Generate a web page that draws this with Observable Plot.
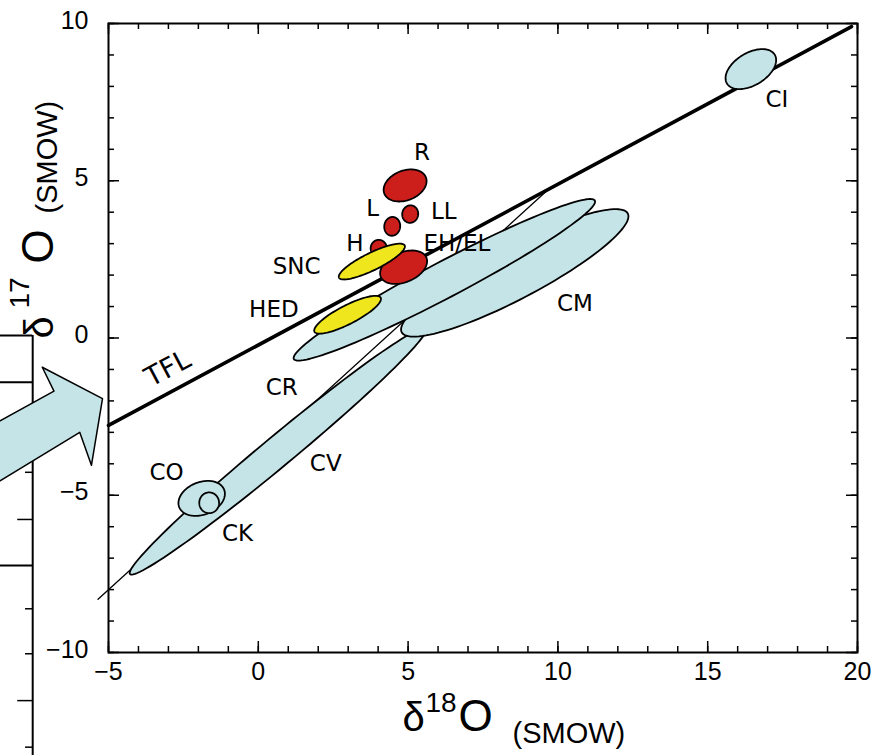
<!DOCTYPE html>
<html><head><meta charset="utf-8">
<script src="https://cdn.jsdelivr.net/npm/d3@7"></script>
<script src="https://cdn.jsdelivr.net/npm/@observablehq/plot@0.6"></script>
<style>body{margin:0;background:#fff;} #chart svg{display:block;}</style>
</head><body><div id="chart"></div>
<script>
// ---------- data ----------
// axis ticks
const xTickLabels = [-5, 0, 5, 10, 15, 20];
const yTickLabels = [-10, -5, 0, 5, 10];

// lines (δ18O, δ17O end points)
const tflX = [-5, 19.8];
const tflY = [-2.78, 9.9];
const ccamX = [-5.35, 9.76];
const ccamY = [-8.31, 4.79];

// fields (ellipses): centre, semi-axes (‰), tilt (deg), group
const shapeNames = ["CV", "CO", "CK", "CM", "CR", "HED", "H", "EH/EL", "SNC", "L", "LL", "R", "CI"];
const shapeX     = [0.66, -1.89, -1.64, 8.56, 6.21, 2.98, 4.02, 4.85, 3.79, 4.47, 5.07, 4.90, 16.44];
const shapeY     = [-3.60, -5.10, -5.24, 2.07, 1.85, 0.74, 2.85, 2.25, 2.43, 3.55, 3.94, 4.85, 8.55];
const shapeA     = [6.30, 0.80, 0.33, 4.22, 5.62, 1.23, 0.27, 0.82, 1.21, 0.30, 0.28, 0.74, 0.92];
const shapeB     = [0.49, 0.52, 0.33, 0.84, 0.58, 0.30, 0.27, 0.475, 0.28, 0.265, 0.265, 0.475, 0.52];
const shapeAngle = [38.3, 19, 0, 26.5, 26.6, 25.9, 0, 21, 24.9, 80, 70, 19.1, 28.8];
const shapeGroup = ["carb", "carb", "carb", "carb", "carb", "achon", "ord", "ord", "achon", "ord", "ord", "ord", "carb"];

// labels
const labelNames = ["CI", "R", "L", "LL", "H", "EH/EL", "SNC", "HED", "CM", "CR", "CV", "CO", "CK"];
const labelX = [17.31, 5.46, 3.82, 6.19, 3.22, 6.63, 1.28, 0.52, 10.57, 0.78, 2.25, -3.06, -0.69];
const labelY = [7.58, 5.90, 4.12, 4.02, 3.00, 3.00, 2.27, 0.91, 1.10, -1.57, -3.99, -4.28, -6.22];
const tflLabel = ["TFL"];
const tflLabelX = [-3.02];
const tflLabelY = [-0.97];

// neighbouring panel (cut off at the left) and the arrow pointing into this panel
const arrowX = [-8.93, -6.82, -7.21, -5.20, -5.57, -5.96, -8.93];
const arrowY = [-2.80, -1.69, -0.93, -1.93, -4.05, -3.00, -4.72];
const panelAxisX = [-7.53];
const panelAxisY = [0.08, -13.6];
const panelLinesY = [0.08, -1.41, -7.23];
const panelLinesX = [-8.93, -7.53];
const panelShortTicks = [-2.88, -4.27, -8.61, -10.04, -13.01];
const panelLongTicks = [-5.77, -11.53];

// ---------- layout / style ----------
const W = 887, H = 755;
const mTop = 23, mRight = 30, mBottom = 103, mLeft = 108;
const frameW = W - mLeft - mRight;
const frameH = H - mTop - mBottom;
const colors = {carb: "#c5e4e8", ord: "#cc1f1c", achon: "#f0e61e"};
const labelFont = "'DejaVu Sans', Verdana, sans-serif";
const axisFont = "'Liberation Sans', Arial, Helvetica, sans-serif";
const fmt = d => String(d).replace("-", "\u2212");

function outline(i) {
  const phi = shapeAngle[i] * Math.PI / 180;
  const pts = [];
  for (let k = 0; k < 120; ++k) {
    const t = 2 * Math.PI * k / 120;
    pts.push({
      x: shapeX[i] + shapeA[i] * Math.cos(t) * Math.cos(phi) - shapeB[i] * Math.sin(t) * Math.sin(phi),
      y: shapeY[i] + shapeA[i] * Math.cos(t) * Math.sin(phi) + shapeB[i] * Math.sin(t) * Math.cos(phi)
    });
  }
  return pts;
}

const xMinor = d3.range(-5, 21);
const yMinor = d3.range(-10, 11);

const marks = [];
// neighbouring panel pieces
marks.push(Plot.ruleX(panelAxisX, {x: d => d, y1: panelAxisY[0], y2: panelAxisY[1], stroke: "black", strokeWidth: 2}));
marks.push(Plot.ruleY(panelLinesY, {y: d => d, x1: panelLinesX[0], x2: panelLinesX[1], stroke: "black", strokeWidth: 2}));
marks.push(Plot.ruleY(panelShortTicks, {y: d => d, x1: panelAxisX[0] - 0.24, x2: panelAxisX[0], stroke: "black", strokeWidth: 1.5}));
marks.push(Plot.ruleY(panelLongTicks, {y: d => d, x1: panelAxisX[0] - 0.5, x2: panelAxisX[0], stroke: "black", strokeWidth: 1.5}));
marks.push(Plot.line(arrowX.map((x, i) => ({x, y: arrowY[i]})), {x: "x", y: "y", curve: "linear-closed", fill: colors.carb, stroke: "black", strokeWidth: 1.5}));

// reference lines
marks.push(Plot.line(ccamX.map((x, i) => ({x, y: ccamY[i]})), {x: "x", y: "y", stroke: "black", strokeWidth: 1.3}));
marks.push(Plot.line(tflX.map((x, i) => ({x, y: tflY[i]})), {x: "x", y: "y", stroke: "black", strokeWidth: 3.6}));

// fields
shapeNames.forEach((name, i) => {
  marks.push(Plot.line(outline(i), {x: "x", y: "y", curve: "linear-closed", fill: colors[shapeGroup[i]], stroke: "black", strokeWidth: 1.8}));
});

// labels
marks.push(Plot.text(labelNames, {x: (d, i) => labelX[i], y: (d, i) => labelY[i], text: d => d, fontSize: 23, fontFamily: labelFont, fill: "black"}));
marks.push(Plot.text(tflLabel, {x: (d, i) => tflLabelX[i], y: (d, i) => tflLabelY[i], text: d => d, fontSize: 27, fontFamily: labelFont, rotate: -28, fill: "black"}));

// inward ticks on all four sides
const minorLen = 6, majorLen = 11;
marks.push(Plot.tickX(xMinor, {x: d => d, insetTop: frameH - minorLen, stroke: "black", strokeWidth: 1.5}));
marks.push(Plot.tickX(xTickLabels, {x: d => d, insetTop: frameH - majorLen, stroke: "black", strokeWidth: 1.5}));
marks.push(Plot.tickX(xMinor, {x: d => d, insetBottom: frameH - minorLen, stroke: "black", strokeWidth: 1.5}));
marks.push(Plot.tickX(xTickLabels, {x: d => d, insetBottom: frameH - majorLen, stroke: "black", strokeWidth: 1.5}));
marks.push(Plot.tickY(yMinor, {y: d => d, insetRight: frameW - minorLen, stroke: "black", strokeWidth: 1.5}));
marks.push(Plot.tickY(yTickLabels, {y: d => d, insetRight: frameW - majorLen, stroke: "black", strokeWidth: 1.5}));
marks.push(Plot.tickY(yMinor, {y: d => d, insetLeft: frameW - minorLen, stroke: "black", strokeWidth: 1.5}));
marks.push(Plot.tickY(yTickLabels, {y: d => d, insetLeft: frameW - majorLen, stroke: "black", strokeWidth: 1.5}));
marks.push(Plot.frame({stroke: "black", strokeWidth: 2}));

// tick labels
marks.push(Plot.text(xTickLabels, {x: d => d, frameAnchor: "bottom", lineAnchor: "top", dy: 10, text: fmt, fontSize: 25, fontFamily: axisFont, fill: "black"}));
marks.push(Plot.text(yTickLabels, {y: d => d, frameAnchor: "left", textAnchor: "end", dx: -20, dy: -3, text: fmt, fontSize: 25, fontFamily: axisFont, fill: "black"}));

// axis titles
const xt = (s, dx, dy, size) => Plot.text([s], {frameAnchor: "bottom-left", textAnchor: "start", lineAnchor: "bottom", dx, dy, text: d => d, fontSize: size, fontFamily: axisFont, fill: "black"});
marks.push(xt("δ", 294, 78, 40));
marks.push(xt("18", 317, 59, 28));
marks.push(xt("O", 350, 78, 44));
marks.push(xt("(SMOW)", 404, 90, 29));
const yt = (s, dx, dy, size) => Plot.text([s], {frameAnchor: "top-left", textAnchor: "start", lineAnchor: "bottom", rotate: -90, dx, dy, text: d => d, fontSize: size, fontFamily: axisFont, fill: "black"});
marks.push(yt("δ", -56, 315, 40));
marks.push(yt("17", -80, 285, 28));
marks.push(yt("O", -56, 240, 44));
marks.push(yt("(SMOW)", -52, 190, 29));

const chart = Plot.plot({
  width: W, height: H,
  marginTop: mTop, marginRight: mRight, marginBottom: mBottom, marginLeft: mLeft,
  x: {domain: [-5, 20], axis: null},
  y: {domain: [-10, 10], axis: null},
  style: {background: "white", fontFamily: axisFont, overflow: "visible"},
  marks
});
document.getElementById("chart").appendChild(chart);
</script>
</body></html>
